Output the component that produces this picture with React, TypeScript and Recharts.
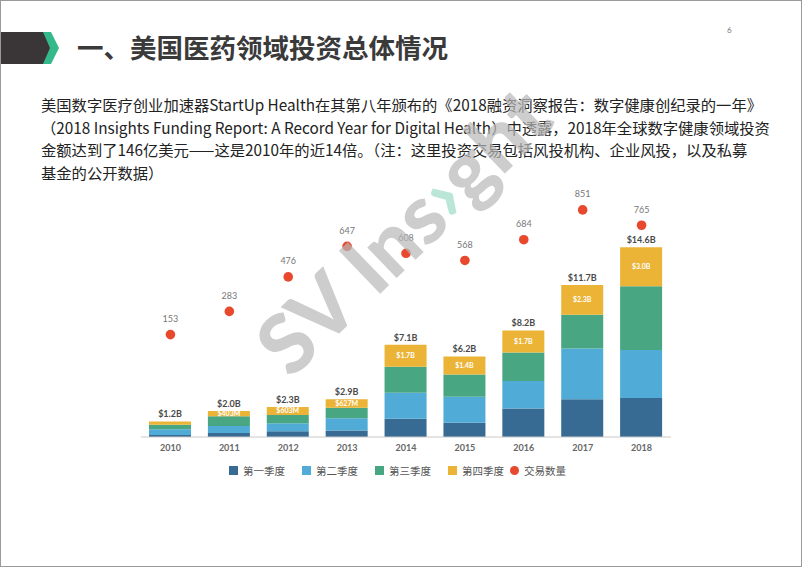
import { ComposedChart, Bar, Scatter, XAxis, YAxis, Legend, LabelList } from 'recharts'

const years = ['2010', '2011', '2012', '2013', '2014', '2015', '2016', '2017', '2018']
const q1 = [0.15, 0.3, 0.45, 0.5, 1.4, 1.1, 2.2, 2.9, 3.0]
const q2 = [0.45, 0.55, 0.6, 0.95, 2.0, 2.0, 2.1, 3.9, 3.7]
const q3 = [0.35, 0.75, 0.65, 0.8, 2.0, 1.7, 2.2, 2.6, 4.9]
const q4 = [0.25, 0.4, 0.6, 0.65, 1.7, 1.4, 1.7, 2.3, 3.0]
const totalLabels = ['$1.2B', '$2.0B', '$2.3B', '$2.9B', '$7.1B', '$6.2B', '$8.2B', '$11.7B', '$14.6B']
const q4Labels = ['', '$403M', '$603M', '$627M', '$1.7B', '$1.4B', '$1.7B', '$2.3B', '$3.0B']
const deals = [153, 283, 476, 647, 608, 568, 684, 851, 765]
const legendOrder = ['第一季度', '第二季度', '第三季度', '第四季度', '交易数量']

const paragraph = [
  '美国数字医疗创业加速器StartUp Health在其第八年颁布的《2018融资洞察报告：数字健康创纪录的一年》',
  '（2018 Insights Funding Report: A Record Year for Digital Health）中透露，2018年全球数字健康领域投资',
  '金额达到了146亿美元——这是2010年的近14倍。（注：这里投资交易包括风投机构、企业风投，以及私募',
  '基金的公开数据）',
]

const data = years.map((year, i) => ({
  year,
  q1: q1[i],
  q2: q2[i],
  q3: q3[i],
  q4: q4[i],
  total: totalLabels[i],
  q4Label: q4Labels[i],
  deals: deals[i],
}))

const chartFont = "Lato, 'Noto Sans CJK SC', sans-serif"

function LegendContent(props: any) {
  const items = [...(props.payload || [])].sort(
    (a: any, b: any) => legendOrder.indexOf(a.value) - legendOrder.indexOf(b.value)
  )
  return (
    <div style={{ display: 'flex', justifyContent: 'center', paddingTop: 6, fontFamily: "'Noto Sans CJK SC', sans-serif" }}>
      {items.map((it: any, i: number) => (
        <div key={i} style={{ display: 'flex', alignItems: 'center', marginRight: i === 3 ? 6 : 17 }}>
          <span
            style={{
              width: 9,
              height: 9,
              background: it.color,
              borderRadius: it.type === 'circle' ? '50%' : 0,
              marginRight: 5,
              display: 'inline-block',
            }}
          />
          <span style={{ fontSize: 10.5, color: '#555' }}>{it.value}</span>
        </div>
      ))}
    </div>
  )
}

export default function App() {
  return (
    <div
      style={{
        position: 'absolute',
        left: 0,
        top: 0,
        width: 800,
        height: 565,
        border: '1px solid #9a9a9a',
        background: '#fff',
        overflow: 'hidden',
      }}
    >
      <svg width={70} height={40} style={{ position: 'absolute', left: 0, top: 28 }}>
        <polygon points="0,3 44,3 51,19 44,35 0,35" fill="#3a3536" />
        <polygon points="42,3 50,3 58,19 50,35 42,35 49,19" fill="#35b98a" />
      </svg>
      <div
        style={{
          position: 'absolute',
          left: 76,
          top: 29,
          fontSize: 26.5,
          fontWeight: 700,
          color: '#3a3a3a',
          fontFamily: "'Noto Sans CJK SC', sans-serif",
          lineHeight: '34px',
          whiteSpace: 'nowrap',
        }}
      >
        一、美国医药领域投资总体情况
      </div>
      <div style={{ position: 'absolute', left: 726, top: 24, fontSize: 8, color: '#777', fontFamily: 'Lato, sans-serif' }}>6</div>
      <div
        style={{
          position: 'absolute',
          left: 40,
          top: 92,
          fontSize: 15.3,
          lineHeight: '22.5px',
          color: '#222',
          fontFamily: "'Noto Sans CJK SC', sans-serif",
          whiteSpace: 'nowrap',
        }}
      >
        {paragraph.map((line, i) => (
          <div key={i}>{line}</div>
        ))}
      </div>

      <div style={{ position: 'absolute', left: 130, top: 150 }}>
        <ComposedChart width={560} height={340} data={data} margin={{ top: 26, right: 20, left: 10, bottom: 0 }} barCategoryGap={0}>
          <XAxis
            dataKey="year"
            height={20}
            tickLine={false}
            axisLine={{ stroke: '#c9c9c9' }}
            tick={{ fill: '#666', fontSize: 9, fontWeight: 700, fontFamily: chartFont }}
          />
          <YAxis yAxisId="amt" hide domain={[0, 20]} />
          <YAxis yAxisId="deals" orientation="right" hide domain={[-420, 1035]} />
          <Legend verticalAlign="bottom" height={34} content={<LegendContent />} />
          <Bar yAxisId="amt" dataKey="q1" name="第一季度" stackId="a" fill="#386b93" barSize={42} isAnimationActive={false} />
          <Bar yAxisId="amt" dataKey="q2" name="第二季度" stackId="a" fill="#50acd6" barSize={42} isAnimationActive={false} />
          <Bar yAxisId="amt" dataKey="q3" name="第三季度" stackId="a" fill="#48a683" barSize={42} isAnimationActive={false} />
          <Bar yAxisId="amt" dataKey="q4" name="第四季度" stackId="a" fill="#ebb436" barSize={42} isAnimationActive={false}>
            <LabelList dataKey="q4Label" position="center" fill="#fff" fontSize={7} fontWeight={700} fontFamily={chartFont} />
            <LabelList dataKey="total" position="top" offset={4} fill="#4a4a4a" fontSize={9} fontWeight={700} fontFamily={chartFont} />
          </Bar>
          <Scatter
            yAxisId="deals"
            dataKey="deals"
            name="交易数量"
            fill="#e8492e"
            legendType="circle"
            isAnimationActive={false}
            shape={(p: any) => <circle cx={p.cx} cy={p.cy} r={4.8} fill="#e8492e" />}
          >
            <LabelList dataKey="deals" position="top" offset={8} fill="#777" fontSize={9} fontFamily={chartFont} />
          </Scatter>
        </ComposedChart>
      </div>

      <svg width={802} height={567} style={{ position: 'absolute', left: 0, top: 0, pointerEvents: 'none' }}>
        <text
          x={290}
          y={379}
          transform="rotate(-44 290 379)"
          fontSize={82}
          fontWeight={900}
          fontFamily="Lato, 'Noto Sans', sans-serif"
          fill="#b8b8b8"
          opacity={0.7}
        >
          SV Ins<tspan fill="#9edcc8">›</tspan>ght
        </text>
      </svg>
    </div>
  )
}
